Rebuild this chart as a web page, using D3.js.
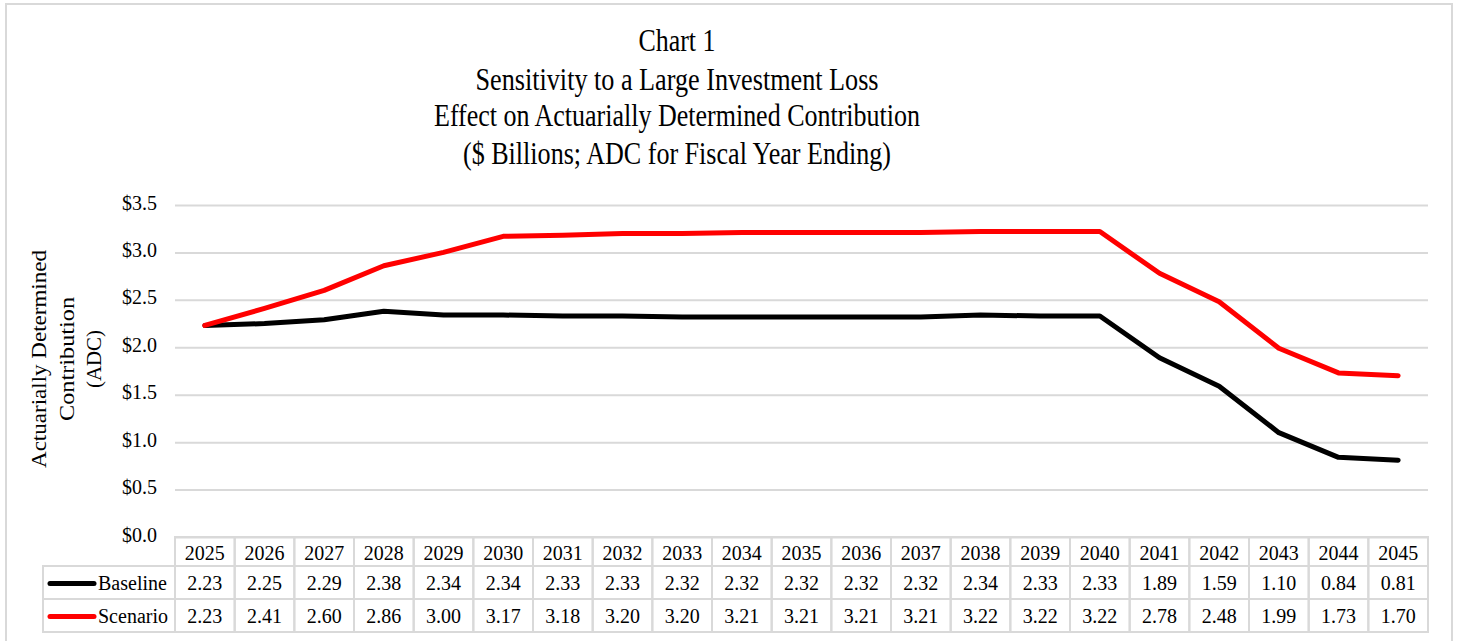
<!DOCTYPE html>
<html>
<head>
<meta charset="utf-8">
<script src="https://cdn.jsdelivr.net/npm/d3@7"></script>
<style>
  body { margin: 0; background: #fff; }
  svg text { font-family: "Liberation Serif", "Times New Roman", serif; fill: #000; }
</style>
</head>
<body>
<div class="canvas"></div>
<script>
const years = ['2025', '2026', '2027', '2028', '2029', '2030', '2031', '2032', '2033', '2034', '2035',
    '2036', '2037', '2038', '2039', '2040', '2041', '2042', '2043', '2044', '2045']
const baseline = [2.23, 2.25, 2.29, 2.38, 2.34, 2.34, 2.33, 2.33, 2.32, 2.32, 2.32,
    2.32, 2.32, 2.34, 2.33, 2.33, 1.89, 1.59, 1.10, 0.84, 0.81]
const scenario = [2.23, 2.41, 2.60, 2.86, 3.00, 3.17, 3.18, 3.20, 3.20, 3.21, 3.21,
    3.21, 3.21, 3.22, 3.22, 3.22, 2.78, 2.48, 1.99, 1.73, 1.70]
const yTicks = [0, 0.5, 1.0, 1.5, 2.0, 2.5, 3.0, 3.5]
const titleLines = ['Chart 1', 'Sensitivity to a Large Investment Loss',
    'Effect on Actuarially Determined Contribution', '($ Billions; ADC for Fiscal Year Ending)']
const yTitleLines = ['Actuarially Determined', 'Contribution', '(ADC)']

const series = [
    { name: 'Baseline', values: baseline, color: '#000000' },
    { name: 'Scenario', values: scenario, color: '#ff0000' }
]

const W = 1458, H = 641
const svg = d3.select('.canvas').append('svg').attr('width', W).attr('height', H)

// outer chart border
svg.append('rect')
    .attr('x', 6).attr('y', 4).attr('width', 1446).attr('height', 660)
    .attr('fill', 'none').attr('stroke', '#d9d9d9').attr('stroke-width', 2)

const plot = { left: 175, right: 1428, top: 205, bottom: 537 }

const x = d3.scaleBand().domain(years).range([plot.left, plot.right])
const y = d3.scaleLinear().domain([0, 3.5]).range([plot.bottom, plot.top])

// title
const titleWidths = [77, 403, 486, 428]
const titleBase = [51, 90, 126, 164]
svg.append('g').selectAll('text').data(titleLines).enter().append('text')
    .attr('x', 677)
    .attr('y', (d, i) => titleBase[i])
    .attr('text-anchor', 'middle')
    .attr('font-size', 32)
    .attr('textLength', (d, i) => titleWidths[i])
    .attr('lengthAdjust', 'spacingAndGlyphs')
    .text(d => d)

// y axis with gridlines
const yAxis = d3.axisLeft(y).tickValues(yTicks)
    .tickSize(-(plot.right - plot.left)).tickPadding(18)
    .tickFormat(d => '$' + d.toFixed(1))
const yAxisGroup = svg.append('g').attr('transform', `translate(${plot.left},0)`).call(yAxis)
yAxisGroup.select('.domain').remove()
yAxisGroup.selectAll('line').attr('stroke', '#d9d9d9').attr('stroke-width', 2)
yAxisGroup.selectAll('text')
    .attr('font-size', 20).attr('font-family', '"Liberation Serif", serif').attr('fill', '#000')
    .attr('dy', '0.2em')

// y axis title
const yTitleX = [38, 66, 93]
svg.append('g').selectAll('text').data(yTitleLines).enter().append('text')
    .attr('transform', (d, i) => `translate(${yTitleX[i] + 8}, 359) rotate(-90)`)
    .attr('text-anchor', 'middle')
    .attr('font-size', 22)
    .attr('textLength', (d, i) => [218, 124, 58][i])
    .attr('lengthAdjust', 'spacingAndGlyphs')
    .text(d => d)

// lines
const line = d3.line()
    .x((d, i) => x(years[i]) + x.bandwidth() / 2)
    .y(d => y(d))

svg.append('g').selectAll('path').data(series).enter().append('path')
    .attr('d', d => line(d.values))
    .attr('fill', 'none')
    .attr('stroke', d => d.color)
    .attr('stroke-width', 5)
    .attr('stroke-linejoin', 'round')
    .attr('stroke-linecap', 'round')

// data table below the plot
const rowTop = [537, 566, 599]
const rowBottom = [566, 599, 632]
const legendLeft = 43
const table = svg.append('g')
const gridStroke = '#d9d9d9'

// header row (years)
table.selectAll('rect.head').data(years).enter().append('rect')
    .attr('class', 'head')
    .attr('x', d => x(d)).attr('y', rowTop[0])
    .attr('width', x.bandwidth()).attr('height', rowBottom[0] - rowTop[0])
    .attr('fill', 'none').attr('stroke', gridStroke).attr('stroke-width', 2)
table.selectAll('text.head').data(years).enter().append('text')
    .attr('class', 'head')
    .attr('x', d => x(d) + x.bandwidth() / 2).attr('y', rowBottom[0] - 6)
    .attr('text-anchor', 'middle').attr('font-size', 20)
    .text(d => d)

series.forEach((s, si) => {
    const top = rowTop[si + 1], bottom = rowBottom[si + 1]
    const row = table.append('g')
    row.append('rect')
        .attr('x', legendLeft).attr('y', top)
        .attr('width', plot.left - legendLeft).attr('height', bottom - top)
        .attr('fill', 'none').attr('stroke', gridStroke).attr('stroke-width', 2)
    row.append('line')
        .attr('x1', 50).attr('x2', 94)
        .attr('y1', (top + bottom) / 2 + 1).attr('y2', (top + bottom) / 2 + 1)
        .attr('stroke', s.color).attr('stroke-width', 5).attr('stroke-linecap', 'round')
    row.append('text')
        .attr('x', 98).attr('y', bottom - 9)
        .attr('font-size', 20)
        .text(s.name)
    row.selectAll('rect.cell').data(s.values).enter().append('rect')
        .attr('class', 'cell')
        .attr('x', (d, i) => x(years[i])).attr('y', top)
        .attr('width', x.bandwidth()).attr('height', bottom - top)
        .attr('fill', 'none').attr('stroke', gridStroke).attr('stroke-width', 2)
    row.selectAll('text.cell').data(s.values).enter().append('text')
        .attr('class', 'cell')
        .attr('x', (d, i) => x(years[i]) + x.bandwidth() / 2).attr('y', bottom - 9)
        .attr('text-anchor', 'middle').attr('font-size', 20)
        .text(d => d.toFixed(2))
})
</script>
</body>
</html>
